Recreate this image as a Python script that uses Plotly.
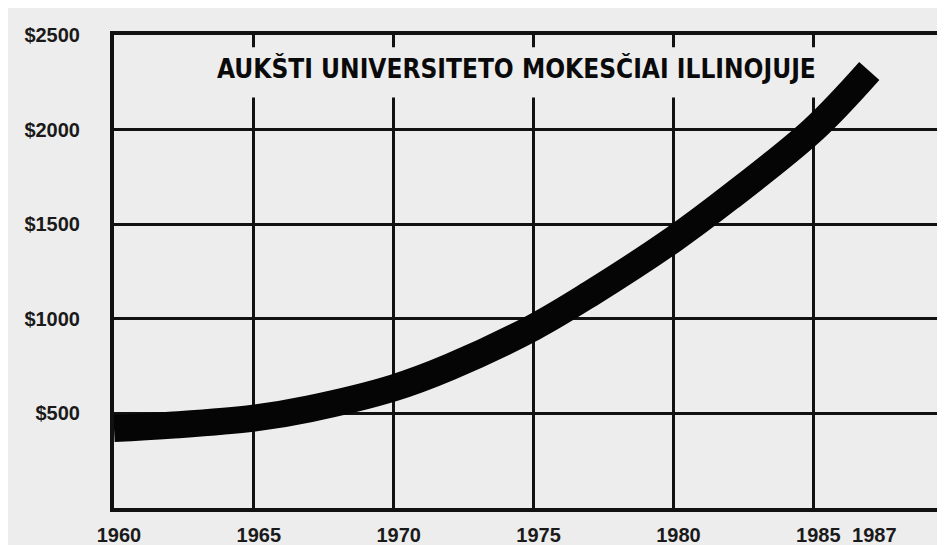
import plotly.graph_objects as go

# Data
years = [1960, 1962, 1965, 1967, 1970, 1972, 1975, 1977, 1980, 1982, 1985, 1987]
tuition = [420, 437, 475, 525, 635, 745, 955, 1130, 1420, 1640, 2000, 2310]

grid_years = [1960, 1965, 1970, 1975, 1980, 1985]
extra_year = [1987]
y_ticks = [500, 1000, 1500, 2000, 2500]
y_labels = ["$500", "$1000", "$1500", "$2000", "$2500"]
title_text = "AUKŠTI UNIVERSITETO MOKESČIAI ILLINOJUJE"

BG = "#ededed"
INK = "#111111"
tick_font = dict(family="Liberation Sans", size=20, color="#1a1a1a", weight="bold")

fig = go.Figure()
fig.add_trace(go.Scatter(
    x=years, y=tuition, mode="lines",
    line=dict(color="#050505", width=27, shape="spline", smoothing=1.0),
    hoverinfo="skip", showlegend=False,
))
# invisible trace on secondary x axis so the 1987 label shows
fig.add_trace(go.Scatter(x=extra_year, y=[0], xaxis="x2", mode="markers",
                         marker=dict(opacity=0), showlegend=False, hoverinfo="skip"))

fig.update_layout(
    width=945, height=545,
    margin=dict(l=106, r=7, t=27, b=32),
    paper_bgcolor=BG, plot_bgcolor=BG,
    showlegend=False,
    xaxis=dict(
        range=[1960, 1989.6], tickvals=grid_years, ticktext=[str(v) for v in grid_years],
        showgrid=True, gridcolor=INK, gridwidth=3, zeroline=False,
        showline=True, mirror=True, linecolor=INK, linewidth=4,
        ticks="", tickfont=tick_font, ticklabelstandoff=6, ticklabelshift=5,
    ),
    xaxis2=dict(
        range=[1960, 1989.6], overlaying="x", side="bottom", tickvals=extra_year,
        ticktext=[str(v) for v in extra_year], showgrid=False, zeroline=False,
        showline=True, linecolor=INK, linewidth=4,
        ticks="", tickfont=tick_font, ticklabelstandoff=6, ticklabelshift=5,
    ),
    yaxis=dict(
        range=[0, 2500], tickvals=y_ticks, ticktext=y_labels,
        showgrid=True, gridcolor=INK, gridwidth=3, zeroline=False,
        showline=True, mirror=True, linecolor=INK, linewidth=4,
        ticks="", tickfont=tick_font, ticklabelstandoff=26,
    ),
    shapes=[dict(
        type="rect", layer="between", xref="x", yref="y",
        x0=1961.5, x1=1988.2, y0=2170, y1=2435,
        fillcolor=BG, line=dict(width=0),
    )],
    annotations=[dict(
        text=title_text, xref="paper", yref="paper", x=0.486, y=0.93,
        xanchor="center", yanchor="middle", showarrow=False,
        font=dict(family="DejaVu Sans Condensed, DejaVu Sans, sans-serif", size=26,
                  color="#0a0a0a", weight="bold"),
    )],
)

fig.write_html("out.html")
